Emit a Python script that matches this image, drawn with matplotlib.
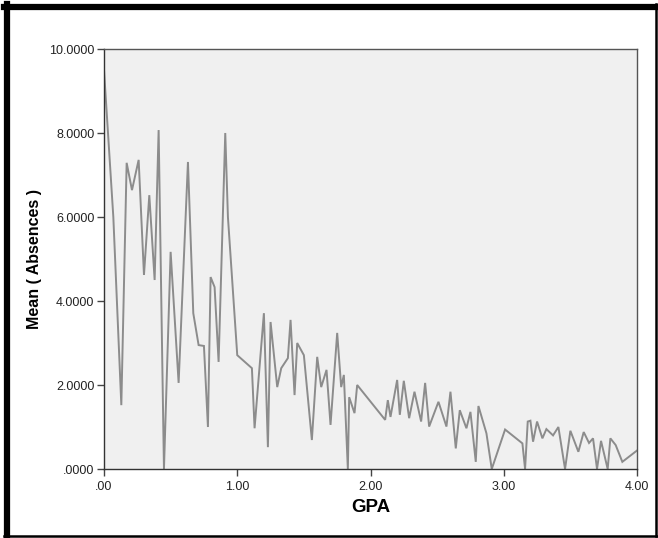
import matplotlib
matplotlib.use("Agg")
import matplotlib.pyplot as plt
from matplotlib.lines import Line2D

# mean absences per GPA value
gpa = [0.00, 0.07, 0.13, 0.17, 0.21, 0.26, 0.30, 0.34, 0.38, 0.41,
       0.45, 0.50, 0.56, 0.63, 0.67, 0.71, 0.75, 0.78, 0.80, 0.83,
       0.86, 0.91, 0.93, 1.00, 1.11, 1.13, 1.20, 1.23, 1.25, 1.30,
       1.33, 1.38, 1.40, 1.43, 1.45, 1.50, 1.56, 1.60, 1.63, 1.67,
       1.70, 1.75, 1.78, 1.80, 1.83, 1.84, 1.88, 1.90, 2.11, 2.13,
       2.15, 2.20, 2.22, 2.25, 2.29, 2.33, 2.38, 2.41, 2.44, 2.51,
       2.57, 2.60, 2.64, 2.67, 2.72, 2.75, 2.79, 2.81, 2.87, 2.91,
       3.01, 3.14, 3.16, 3.18, 3.20, 3.22, 3.25, 3.29, 3.32, 3.37,
       3.41, 3.46, 3.50, 3.56, 3.60, 3.64, 3.67, 3.70, 3.73, 3.78,
       3.80, 3.84, 3.89, 4.00]
absences = [9.50, 6.00, 1.52, 7.29, 6.64, 7.36, 4.62, 6.52, 4.50, 8.07,
            0.00, 5.17, 2.05, 7.31, 3.71, 2.95, 2.93, 1.00, 4.57, 4.33,
            2.55, 8.00, 6.00, 2.71, 2.40, 0.97, 3.71, 0.52, 3.50, 1.95,
            2.40, 2.64, 3.55, 1.76, 3.00, 2.71, 0.69, 2.67, 1.95, 2.36,
            1.05, 3.24, 1.95, 2.24, 0.00, 1.71, 1.33, 2.00, 1.17, 1.64,
            1.24, 2.12, 1.29, 2.10, 1.21, 1.84, 1.13, 2.05, 1.01, 1.60,
            1.01, 1.84, 0.49, 1.40, 0.97, 1.36, 0.17, 1.50, 0.85, 0.00,
            0.94, 0.61, 0.00, 1.13, 1.15, 0.65, 1.13, 0.73, 0.95, 0.80,
            1.00, 0.00, 0.91, 0.41, 0.88, 0.62, 0.73, 0.00, 0.67, 0.00,
            0.73, 0.57, 0.17, 0.44]

yticks = [0, 2, 4, 6, 8, 10]
ytick_labels = [".0000", "2.0000", "4.0000", "6.0000", "8.0000", "10.0000"]
xticks = [0, 1, 2, 3, 4]
xtick_labels = [".00", "1.00", "2.00", "3.00", "4.00"]

plt.rcParams["font.family"] = ["Liberation Sans", "DejaVu Sans"]

W, H = 658, 538
fig = plt.figure(figsize=(W / 100, H / 100), dpi=100)
ax = fig.add_axes([104 / W, 1 - 469 / H, (637 - 104) / W, (469 - 49) / H])
ax.set_facecolor("#f0f0f0")
ax.plot(gpa, absences, color="#8c8c8c", lw=1.4, solid_joinstyle="miter")
ax.set_xlim(0, 4)
ax.set_ylim(0, 10)
ax.set_xticks(xticks)
ax.set_xticklabels(xtick_labels)
ax.set_yticks(yticks)
ax.set_yticklabels(ytick_labels)
ax.tick_params(direction="out", length=5, width=1, color="#444444",
               labelsize=9, labelcolor="#222222", pad=2)
ax.tick_params(axis="x", pad=4)
for s in ax.spines.values():
    s.set_color("#555555")
    s.set_linewidth(1.0)
ax.spines["left"].set_color("#333333")
ax.spines["bottom"].set_color("#333333")
ax.set_xlabel("GPA", fontsize=13.5, fontweight="bold", labelpad=4)
ax.set_ylabel("Mean ( Absences )", fontsize=11.5, fontweight="bold", labelpad=5)

# outer frame: thick on left/top, thin on right/bottom
fx = lambda p: p / W
fy = lambda p: 1 - p / H
fig.add_artist(Line2D([fx(7), fx(7)], [fy(4), fy(536)], color="black", lw=4.5))
fig.add_artist(Line2D([fx(4), fx(657)], [fy(7), fy(7)], color="black", lw=4.5))
fig.add_artist(Line2D([fx(656), fx(656)], [fy(4), fy(536)], color="black", lw=1.8))
fig.add_artist(Line2D([fx(4), fx(657)], [fy(535.5), fy(535.5)], color="black", lw=1.8))

fig.savefig("out.png", dpi=100)
